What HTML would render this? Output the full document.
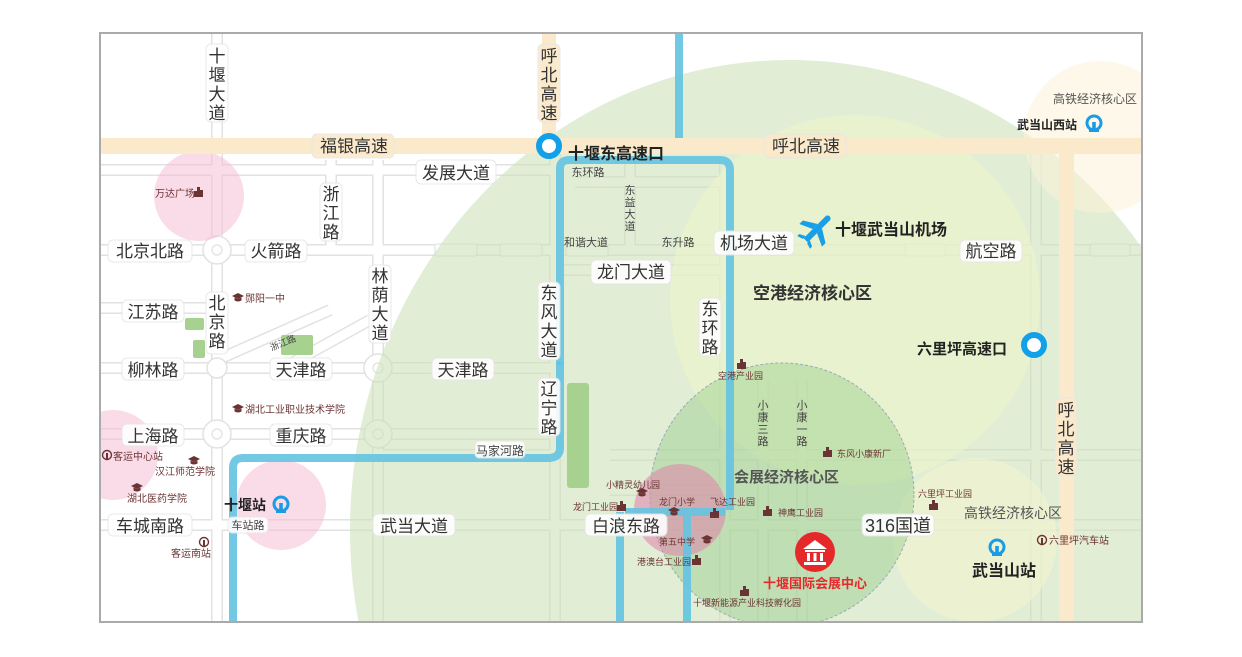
<!DOCTYPE html>
<html><head><meta charset="utf-8"><style>
html,body{margin:0;padding:0;background:#fff;overflow:hidden;width:1242px;height:657px;}
svg{display:block;font-family:"Liberation Sans","Noto Sans CJK SC",sans-serif;}
.l{fill:#333;font-size:17px;}
.s{fill:#444;font-size:11px;}
.p{fill:#6b3434;font-size:10px;}
.b{fill:#222;font-weight:bold;}
</style></head><body>
<svg width="1242" height="657" viewBox="0 0 1242 657">
<defs>
<clipPath id="c"><rect x="101" y="34" width="1040" height="587"/></clipPath>
<g id="gown"><path d="M-6 -2 L0 -5 L6 -2 L0 1 Z" fill="#6b3434"/><path d="M-3.5 -0.5 v3 q3.5 2 7 0 v-3 L0 1 Z" fill="#6b3434"/></g>
<g id="bld"><path d="M-6 4 V-2 h3 V-6 h3 V-3 h3 V4 Z" fill="#6b3434"/></g>
<g id="rail"><circle cx="0" cy="-1" r="7" fill="none" stroke="#1a9be6" stroke-width="3"/><rect x="-1.8" y="-2" width="3.6" height="8" fill="#1a9be6"/><rect x="-5" y="5" width="10" height="3" fill="#1a9be6"/></g>
<g id="bus"><circle cx="0" cy="0" r="4.5" fill="none" stroke="#6b3434" stroke-width="1.4"/><rect x="-1" y="-2" width="2" height="6" fill="#6b3434"/></g>
</defs>
<g clip-path="url(#c)">
<rect x="100" y="33" width="1042" height="589" fill="#fff"/>
<g stroke="#e2e2e2" stroke-width="12" fill="none">
<path d="M217 33V622M100 170H555M100 250H1142M100 308H217M100 368H560M100 434H560M100 525H1142M331 160V250M378 160V622M555 153V622M725 160V622M1036 153V622M562 270H720M555 250H720M630 160V250M217 360L330 310M283 368L370 320M575 182H720M763 380V622M802 380V622M610 455H1142M378 455H555M610 490H720"/>
</g>
<g stroke="#fff" stroke-width="9" fill="none">
<path d="M217 33V622M100 170H555M100 250H1142M100 308H217M100 368H560M100 434H560M100 525H1142M331 160V250M378 160V622M555 153V622M725 160V622M1036 153V622M562 270H720M555 250H720M630 160V250M217 360L330 310M283 368L370 320M575 182H720M763 380V622M802 380V622M610 455H1142M378 455H555M610 490H720"/>
</g>
<g fill="#fff" stroke="#e2e2e2" stroke-width="1.5">
<circle cx="217" cy="250" r="14"/><circle cx="217" cy="434" r="14"/><circle cx="378" cy="368" r="14"/><circle cx="378" cy="434" r="14"/><circle cx="217" cy="368" r="10"/>
</g>
<g fill="none" stroke="#e6e6e6" stroke-width="1.5"><circle cx="217" cy="250" r="5"/><circle cx="217" cy="434" r="5"/><circle cx="378" cy="368" r="5"/><circle cx="378" cy="434" r="5"/></g>
<g fill="#fff" stroke="#e2e2e2" stroke-width="1.2">
<rect x="435" y="244" width="42" height="12" rx="2"/><rect x="500" y="244" width="42" height="12" rx="2"/><rect x="566" y="244" width="42" height="12" rx="2"/><rect x="905" y="244" width="40" height="12" rx="2"/><rect x="1090" y="244" width="40" height="12" rx="2"/>
</g>
<ellipse cx="790" cy="530" rx="440" ry="470" fill="rgba(205,225,185,0.6)"/>
<circle cx="1100" cy="137" r="76" fill="rgba(252,242,215,0.55)"/>
<circle cx="855" cy="300" r="185" fill="rgba(240,245,200,0.55)"/>
<circle cx="975" cy="540" r="82" fill="rgba(245,245,205,0.55)"/>
<circle cx="782" cy="495" r="132" fill="rgba(150,205,140,0.45)" stroke="#9ab" stroke-width="1" stroke-dasharray="3 2"/>
<circle cx="199" cy="196" r="45" fill="rgba(245,185,212,0.5)"/>
<circle cx="281" cy="505" r="45" fill="rgba(245,185,212,0.5)"/>
<circle cx="113" cy="455" r="45" fill="rgba(245,185,212,0.5)"/>
<circle cx="680" cy="510" r="46" fill="rgba(225,130,170,0.55)"/>
<rect x="100" y="138" width="1042" height="16" fill="#fbe9cb"/>
<rect x="542" y="33" width="14" height="105" fill="#fbe9cb"/>
<rect x="1059" y="154" width="15" height="468" fill="#fbe9cb"/>
<g fill="none" stroke="rgba(100,195,225,0.9)" stroke-width="8">
<path d="M679 33V138"/>
<path d="M560 365V168Q560 160 570 160H720Q730 160 730 170V510"/>
<path d="M560 362V448Q560 458 548 458H243Q233 458 233 468V622"/>
<path d="M620 512V622M687 512V622M625 512H725"/>
</g>
<g fill="#a6d18f"><rect x="185" y="318" width="19" height="12" rx="2"/><rect x="193" y="340" width="12" height="18" rx="2"/><rect x="281" y="335" width="32" height="20" rx="2"/><rect x="567" y="383" width="22" height="105" rx="3"/></g>
</g>
<rect x="100" y="33" width="1042" height="589" fill="none" stroke="#aaa" stroke-width="2"/>

<g fill="#fff" stroke="#e6e6e6" stroke-width="1" opacity="0.9">
<rect x="206" y="44" width="22" height="78" rx="5"/>
<rect x="538" y="44" width="22" height="78" rx="5" fill="#fbe9cb"/>
<rect x="312" y="134" width="82" height="24" rx="5" fill="#fbe9cb"/>
<rect x="764" y="134" width="82" height="24" rx="5" fill="#fbe9cb"/>
<rect x="416" y="160" width="80" height="24" rx="5"/>
<rect x="320" y="183" width="22" height="58" rx="5"/>
<rect x="108" y="240" width="84" height="22" rx="5"/>
<rect x="245" y="240" width="62" height="22" rx="5"/>
<rect x="714" y="231" width="80" height="24" rx="5"/>
<rect x="960" y="240" width="62" height="22" rx="5"/>
<rect x="591" y="260" width="80" height="24" rx="5"/>
<rect x="538" y="282" width="22" height="78" rx="5"/>
<rect x="699" y="298" width="22" height="58" rx="5"/>
<rect x="369" y="265" width="22" height="78" rx="5"/>
<rect x="122" y="300" width="62" height="22" rx="5"/>
<rect x="206" y="292" width="22" height="62" rx="5"/>
<rect x="122" y="358" width="62" height="22" rx="5"/>
<rect x="270" y="358" width="62" height="22" rx="5"/>
<rect x="432" y="358" width="62" height="22" rx="5"/>
<rect x="538" y="378" width="22" height="58" rx="5"/>
<rect x="1055" y="398" width="22" height="78" rx="5" fill="#fbe9cb"/>
<rect x="122" y="424" width="62" height="22" rx="5"/>
<rect x="270" y="424" width="62" height="22" rx="5"/>
<rect x="475" y="441" width="50" height="17" rx="4"/>
<rect x="108" y="514" width="84" height="22" rx="5"/>
<rect x="373" y="514" width="82" height="22" rx="5"/>
<rect x="585" y="514" width="82" height="22" rx="5"/>
<rect x="862" y="514" width="72" height="22" rx="5"/>
<rect x="228" y="517" width="40" height="16" rx="4"/>
</g>

<g class="l" text-anchor="middle">
<text x="217" y="62">十</text><text x="217" y="81">堰</text><text x="217" y="100">大</text><text x="217" y="119">道</text>
<text x="549" y="62">呼</text><text x="549" y="81">北</text><text x="549" y="100">高</text><text x="549" y="119">速</text>
<text x="354" y="152">福银高速</text>
<text x="806" y="152">呼北高速</text>
<text x="456" y="179">发展大道</text>
<text x="331" y="200">浙</text><text x="331" y="219">江</text><text x="331" y="238">路</text>
<text x="150" y="257">北京北路</text>
<text x="276" y="257">火箭路</text>
<text x="754" y="249">机场大道</text>
<text x="991" y="257">航空路</text>
<text x="631" y="278">龙门大道</text>
<text x="549" y="299">东</text><text x="549" y="318">风</text><text x="549" y="337">大</text><text x="549" y="356">道</text>
<text x="710" y="315">东</text><text x="710" y="334">环</text><text x="710" y="353">路</text>
<text x="380" y="282">林</text><text x="380" y="301">荫</text><text x="380" y="320">大</text><text x="380" y="339">道</text>
<text x="153" y="318">江苏路</text>
<text x="217" y="309">北</text><text x="217" y="328">京</text><text x="217" y="347">路</text>
<text x="153" y="376">柳林路</text>
<text x="301" y="376">天津路</text>
<text x="463" y="376">天津路</text>
<text x="549" y="395">辽</text><text x="549" y="414">宁</text><text x="549" y="433">路</text>
<text x="1066" y="416">呼</text><text x="1066" y="435">北</text><text x="1066" y="454">高</text><text x="1066" y="473">速</text>
<text x="153" y="442">上海路</text>
<text x="301" y="442">重庆路</text>
<text x="150" y="532">车城南路</text>
<text x="414" y="532">武当大道</text>
<text x="626" y="532">白浪东路</text>
<text x="898" y="532" style="font-size:18px">316国道</text>
</g>
<g class="s" text-anchor="middle">
<text x="588" y="176">东环路</text>
<text x="630" y="194">东</text><text x="630" y="206">益</text><text x="630" y="218">大</text><text x="630" y="230">道</text>
<text x="586" y="246">和谐大道</text>
<text x="678" y="246">东升路</text>
<text x="500" y="455" style="font-size:12px">马家河路</text>
<text x="248" y="529">车站路</text>
<text x="763" y="409">小</text><text x="763" y="421">康</text><text x="763" y="433">三</text><text x="763" y="445">路</text>
<text x="802" y="409">小</text><text x="802" y="421">康</text><text x="802" y="433">一</text><text x="802" y="445">路</text>
<text x="283" y="346" transform="rotate(-22 283 343)" style="font-size:9px">浙江路</text>
</g>
<g class="p">
<text x="155" y="197">万达广场</text><use href="#bld" x="200" y="193"/>
<use href="#gown" x="238" y="298"/><text x="245" y="302">郧阳一中</text>
<use href="#gown" x="238" y="409"/><text x="245" y="413">湖北工业职业技术学院</text>
<use href="#bus" x="107" y="455"/><text x="113" y="460">客运中心站</text>
<use href="#gown" x="194" y="461"/><text x="155" y="475">汉江师范学院</text>
<use href="#gown" x="137" y="488"/><text x="127" y="502">湖北医药学院</text>
<use href="#bus" x="204" y="542"/><text x="171" y="557">客运南站</text>
<use href="#bld" x="743" y="365"/><text x="718" y="379" style="font-size:9px">空港产业园</text>
<use href="#bld" x="829" y="453"/><text x="837" y="457" style="font-size:9px">东风小康新厂</text>
<text x="606" y="488" style="font-size:9px">小精灵幼儿园</text><use href="#gown" x="642" y="493"/>
<text x="573" y="510" style="font-size:9px">龙门工业园</text><use href="#bld" x="623" y="507"/>
<text x="659" y="505" style="font-size:9px">龙门小学</text><use href="#gown" x="674" y="512"/>
<text x="710" y="505" style="font-size:9px">飞达工业园</text><use href="#bld" x="716" y="514"/>
<use href="#bld" x="769" y="512"/><text x="778" y="516" style="font-size:9px">神鹰工业园</text>
<text x="918" y="497" style="font-size:9px">六里坪工业园</text><use href="#bld" x="935" y="506"/>
<text x="659" y="545" style="font-size:9px">第五中学</text><use href="#gown" x="707" y="540"/>
<text x="637" y="565" style="font-size:9px">港澳台工业园</text><use href="#bld" x="698" y="561"/>
<use href="#bld" x="746" y="592"/><text x="693" y="606" style="font-size:9px">十堰新能源产业科技孵化园</text>
<use href="#bus" x="1042" y="540"/><text x="1049" y="544">六里坪汽车站</text>
</g>
<circle cx="549" cy="146" r="10" fill="#fff" stroke="#12a0e8" stroke-width="6"/>
<text x="568" y="159" class="b" style="font-size:16px">十堰东高速口</text>
<text x="1095" y="103" text-anchor="middle" style="font-size:12px;fill:#555">高铁经济核心区</text>
<text x="1017" y="129" class="b" style="font-size:12px">武当山西站</text><use href="#rail" x="1094" y="124"/>
<g transform="translate(817 229) rotate(-45)" fill="#17a0e8">
<path d="M-16 -3 H16 Q20 0 16 3 H-16 Z"/>
<path d="M4 -3 L-4 -16 L-9 -16 L-3 -3 Z M4 3 L-4 16 L-9 16 L-3 3 Z"/>
<path d="M-13 -3 L-16 -9 L-19 -9 L-17 -3 Z M-13 3 L-16 9 L-19 9 L-17 3 Z"/>
</g>
<text x="835" y="235" class="b" style="font-size:16px">十堰武当山机场</text>
<text x="753" y="299" class="b" style="font-size:17px;fill:#333">空港经济核心区</text>
<text x="917" y="354" class="b" style="font-size:15px">六里坪高速口</text>
<circle cx="1034" cy="345" r="10" fill="#fff" stroke="#12a0e8" stroke-width="6"/>
<text x="734" y="482" class="b" style="font-size:15px;fill:#555">会展经济核心区</text>
<text x="964" y="518" style="font-size:14px;fill:#555">高铁经济核心区</text>
<text x="224" y="510" class="b" style="font-size:14px">十堰站</text><use href="#rail" x="281" y="505"/>
<circle cx="815" cy="552" r="20" fill="#e5292b"/>
<path d="M803 549L815 540L827 549Z M805 550h20v2h-20z M807 553h3v8h-3z M813.5 553h3v8h-3z M820 553h3v8h-3z M804 562h22v3h-22z" fill="#fff"/>
<text x="815" y="588" text-anchor="middle" style="font-size:13px;font-weight:bold;fill:#e5292b">十堰国际会展中心</text>
<use href="#rail" x="997" y="548"/>
<text x="1004" y="576" text-anchor="middle" class="b" style="font-size:16px">武当山站</text>
</svg>
</body></html>
